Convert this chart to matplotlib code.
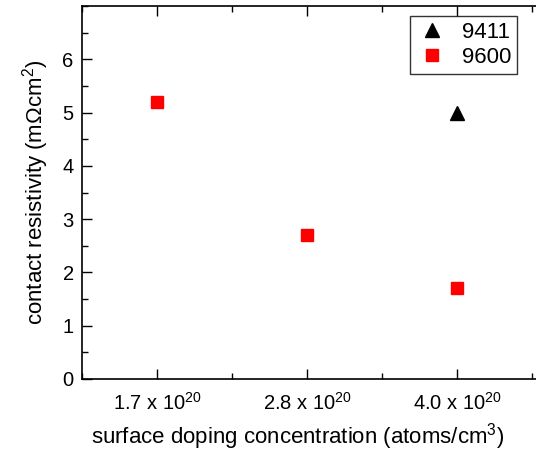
import matplotlib
matplotlib.use("Agg")
import matplotlib.pyplot as plt
from matplotlib.ticker import MultipleLocator

plt.rcParams['font.family'] = ['Liberation Sans', 'DejaVu Sans']
plt.rcParams['mathtext.fontset'] = 'custom'
plt.rcParams['mathtext.rm'] = 'Liberation Sans'
plt.rcParams['mathtext.it'] = 'Liberation Sans'

categories = [r'1.7 x 10$^{\mathregular{20}}$', r'2.8 x 10$^{\mathregular{20}}$', r'4.0 x 10$^{\mathregular{20}}$']
x_9600 = [1, 2, 3]
y_9600 = [5.2, 2.7, 1.7]
x_9411 = [3]
y_9411 = [5.0]

fig = plt.figure(figsize=(5.36, 4.51), dpi=100)
W, H = 536, 451
left, bottom, top = 82, 379, 6
px_per_unit = 150
x0, x1 = 0.5, 3.8
ax_w = (x1 - x0) * px_per_unit
ax = fig.add_axes([left / W, (H - bottom) / H, ax_w / W, (bottom - top) / H])

ax.plot(x_9411, y_9411, linestyle='none', marker='^', color='black',
        markersize=10, label='9411')
ax.plot(x_9600, y_9600, linestyle='none', marker='s', color='red',
        markersize=8, label='9600')

ax.set_xlim(x0, x1)
ax.set_ylim(0, 7)
ax.set_xticks(x_9600)
ax.set_xticklabels(categories, fontsize=14.5)
ax.xaxis.set_minor_locator(MultipleLocator(0.5))
ax.yaxis.set_minor_locator(MultipleLocator(0.5))
ax.set_yticks([0, 1, 2, 3, 4, 5, 6])
ax.tick_params(axis='both', which='both', direction='in', top=True, right=False,
               labelsize=14.5, width=1)
ax.tick_params(which='major', length=7)
ax.tick_params(which='minor', length=4)
ax.tick_params(axis='x', pad=9)
ax.tick_params(axis='y', pad=6)
for s in ax.spines.values():
    s.set_linewidth(1.2)

ax.set_xlabel(r'surface doping concentration (atoms/cm$^{\mathregular{3}}$)', fontsize=16)
ax.xaxis.set_label_coords((298 - left) / ax_w, -0.112)
ax.set_ylabel(r'contact resistivity (m$\mathregular{\Omega}$cm$^{\mathregular{2}}$)', fontsize=16, labelpad=8)

leg = ax.legend(loc='upper left', bbox_to_anchor=((410 - left) / ax_w, (379 - 16) / 373),
                fontsize=16, frameon=True, fancybox=False, edgecolor='black',
                handletextpad=0.6, borderpad=0.25, labelspacing=0.2, handlelength=1.5,
                borderaxespad=0)
leg.get_frame().set_linewidth(1.0)

fig.savefig('out.png', dpi=100)
